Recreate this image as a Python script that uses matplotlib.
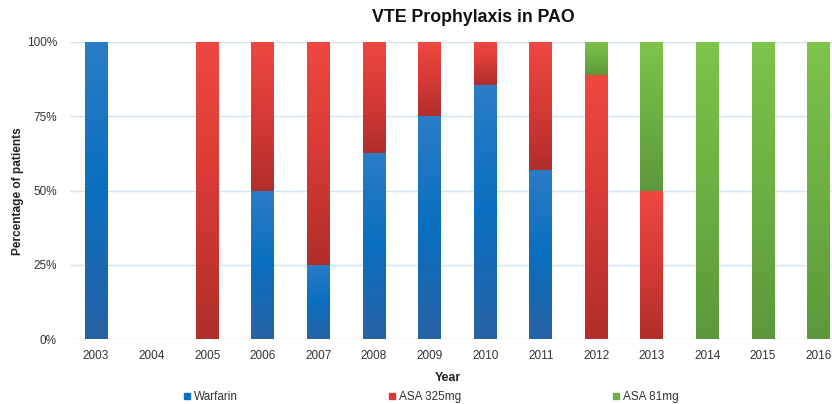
import numpy as np
import matplotlib.pyplot as plt
from matplotlib.colors import LinearSegmentedColormap
from matplotlib.lines import Line2D

plt.rcParams['font.family'] = ['Liberation Sans', 'DejaVu Sans']

years = ['2003', '2004', '2005', '2006', '2007', '2008', '2009',
         '2010', '2011', '2012', '2013', '2014', '2015', '2016']
warfarin = [100, 0, 0, 50, 25, 62.5, 75, 85.7, 57.1, 0, 0, 0, 0, 0]
asa325 = [0, 0, 100, 50, 75, 37.5, 25, 14.3, 42.9, 88.9, 50, 0, 0, 0]
asa81 = [0, 0, 0, 0, 0, 0, 0, 0, 0, 11.1, 50, 100, 100, 100]
series_names = ['Warfarin', 'ASA 325mg', 'ASA 81mg']

# top, middle, bottom of each segment (Excel-style gradient fill)
grads = [
    ['#2b7cc6', '#0a6fbf', '#2862a5'],
    ['#ef4841', '#d63a36', '#b12e2b'],
    ['#7ec34a', '#6daf43', '#5c983b'],
]

fig = plt.figure(figsize=(8.32, 4.04), dpi=100)
ax = fig.add_axes([70 / 832, 64.7 / 404, 1 - 70 / 832, 297.3 / 404])

x = np.arange(len(years))
w = 0.41
bottom = np.zeros(len(years))
grad_img = np.linspace(0, 1, 256).reshape(-1, 1)
for vals, cols, name in zip([warfarin, asa325, asa81], grads, series_names):
    vals = np.array(vals, dtype=float)
    bars = ax.bar(x, vals, w, bottom=bottom, color=cols[1], linewidth=0,
                  zorder=2, label=name)
    cmap = LinearSegmentedColormap.from_list(name, cols)
    for p in bars:
        if p.get_height() <= 0:
            continue
        x0, y0 = p.get_x(), p.get_y()
        im = ax.imshow(grad_img, cmap=cmap, aspect='auto', origin='upper',
                       extent=[x0, x0 + p.get_width(), y0, y0 + p.get_height()],
                       zorder=3, interpolation='bilinear')
        im.set_clip_path(p)
    bottom += vals

ax.set_xlim(-0.468, 13.24)
ax.set_ylim(0, 100)
ax.set_xticks(x)
ax.set_xticklabels(years)
ax.set_yticks([0, 25, 50, 75, 100])
ax.set_yticklabels(['0%', '25%', '50%', '75%', '100%'])
ax.tick_params(length=0, labelsize=8.5, colors='#333333')
ax.tick_params(axis='y', pad=9.5)
ax.tick_params(axis='x', pad=8)
ax.yaxis.grid(True, color='#d5e3f2', linewidth=1, zorder=0)
ax.set_axisbelow(True)
for s in ax.spines.values():
    s.set_visible(False)

fig.text(473 / 832, 1 - 17 / 404, 'VTE Prophylaxis in PAO', ha='center',
         va='center', fontsize=12.8, fontweight='bold', color='#111111')
fig.text(18 / 832, 1 - 191 / 404, 'Percentage of patients', rotation=90,
         ha='center', va='center', fontsize=8.6, fontweight='bold',
         color='#222222')
fig.text(448 / 832, 1 - 378 / 404, 'Year', ha='center', va='center',
         fontsize=9, fontweight='bold', color='#222222')

handles = [Line2D([], [], marker='s', linestyle='', markersize=4,
                  color=c[1]) for c in grads]
fig.legend(handles, series_names, loc='center', ncol=3, frameon=False,
           bbox_to_anchor=(431 / 832, 1 - 397 / 404), fontsize=8.5,
           columnspacing=12.8, handlelength=0.6, handletextpad=0.3,
           labelcolor='#333333')

fig.savefig('out.png', dpi=100)
